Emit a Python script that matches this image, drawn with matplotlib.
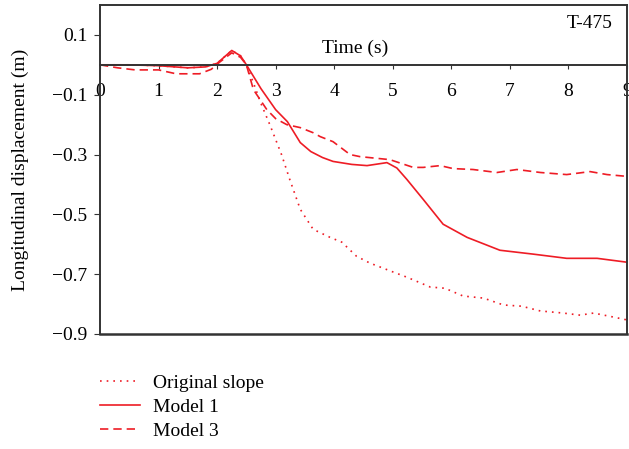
import numpy as np
import matplotlib.pyplot as plt

plt.rcParams['font.family'] = ['Liberation Serif', 'DejaVu Serif']
plt.rcParams['axes.unicode_minus'] = True

# Longitudinal displacement records, T-475
t_orig = [0, 0.5, 1.0, 1.5, 1.8, 2.0, 2.25, 2.4, 2.5, 2.62, 2.75, 2.9, 3.1, 3.24,
          3.42, 3.64, 3.93, 4.13, 4.38, 4.61, 5.01, 5.24, 5.64, 5.89, 6.2, 6.55,
          6.89, 7.2, 7.52, 7.91, 8.2, 8.43, 8.76, 9.0]
d_orig = [0, 0, -0.003, -0.01, -0.007, 0.005, 0.048, 0.03, 0.0, -0.06, -0.13,
          -0.2, -0.3, -0.383, -0.483, -0.55, -0.577, -0.593, -0.64, -0.663,
          -0.693, -0.71, -0.743, -0.747, -0.773, -0.78, -0.803, -0.807, -0.823,
          -0.83, -0.837, -0.83, -0.843, -0.853]

t_m1 = [0, 0.5, 1.0, 1.5, 1.8, 2.0, 2.25, 2.4, 2.5, 2.75, 3.0, 3.2, 3.42, 3.6,
        3.8, 3.98, 4.3, 4.56, 4.9, 5.07, 5.24, 5.52, 5.86, 6.27, 6.83, 7.4,
        7.97, 8.49, 9.0]
d_m1 = [0, 0, -0.003, -0.01, -0.007, 0.005, 0.048, 0.03, 0.0, -0.08, -0.15,
        -0.19, -0.26, -0.29, -0.31, -0.323, -0.333, -0.337, -0.327, -0.345,
        -0.383, -0.45, -0.533, -0.577, -0.62, -0.633, -0.647, -0.647, -0.66]

t_m3 = [0, 0.3, 0.6, 1.0, 1.3, 1.7, 1.9, 2.05, 2.25, 2.4, 2.5, 2.62, 2.85, 3.0,
        3.19, 3.42, 3.64, 3.76, 3.98, 4.27, 4.44, 4.95, 5.35, 5.52, 5.81, 6.03,
        6.37, 6.78, 7.12, 7.52, 7.97, 8.37, 8.66, 9.0]
d_m3 = [0, -0.01, -0.017, -0.017, -0.03, -0.03, -0.015, 0.01, 0.04, 0.025, 0.0,
        -0.083, -0.15, -0.18, -0.2, -0.21, -0.227, -0.24, -0.257, -0.3, -0.307,
        -0.317, -0.343, -0.343, -0.337, -0.347, -0.35, -0.36, -0.35, -0.36,
        -0.367, -0.357, -0.367, -0.373]

xticks = [0, 1, 2, 3, 4, 5, 6, 7, 8, 9]
yticks = [0.1, -0.1, -0.3, -0.5, -0.7, -0.9]

red = '#ee1c25'
fs = 14
fig = plt.figure(figsize=(6.29, 4.49), dpi=100)
ax = fig.add_axes([100/629, 1 - 334/449, 527/629, 329/449])

ax.plot(t_orig, d_orig, color=red, lw=1.2, ls=(0, (1, 3)), label='Original slope')
ax.plot(t_m1, d_m1, color=red, lw=1.2, ls='-', label='Model 1')
ax.plot(t_m3, d_m3, color=red, lw=1.2, ls=(0, (5, 3)), label='Model 3')

ax.set_xlim(0, 9)
ax.set_ylim(-0.9, 0.2)

frame = '#333333'
for s in ['top', 'right', 'left', 'bottom']:
    ax.spines[s].set_color(frame)
    ax.spines[s].set_linewidth(1.4)
ax.spines['bottom'].set_position(('data', 0))
ax.axhline(-0.9, color=frame, lw=1.8, clip_on=False)

ax.set_xticks(xticks)
ax.set_yticks(yticks)
ax.set_yticklabels(['0.1', '\u22120.1', '\u22120.3', '\u22120.5', '\u22120.7', '\u22120.9'])
ax.tick_params(axis='x', direction='out', length=3, pad=10, labelsize=fs, color=frame)
ax.tick_params(axis='y', direction='out', length=4, pad=5, labelsize=fs, color=frame)

ax.set_xlabel('Time (s)', fontsize=fs)
ax.xaxis.set_label_coords(0.484, 0.895)
ax.set_ylabel('Longitudinal displacement (m)', fontsize=fs, labelpad=17)

ax.text(0.93, 0.945, 'T-475', transform=ax.transAxes, ha='center', va='center',
        fontsize=fs)

fig.legend(loc='upper left', bbox_to_anchor=(100/629, 1 - 374/449), frameon=False,
           fontsize=fs, handlelength=2.06, handletextpad=0.67, labelspacing=0.33,
           borderpad=0, borderaxespad=0)

plt.savefig('out.png', dpi=100)
